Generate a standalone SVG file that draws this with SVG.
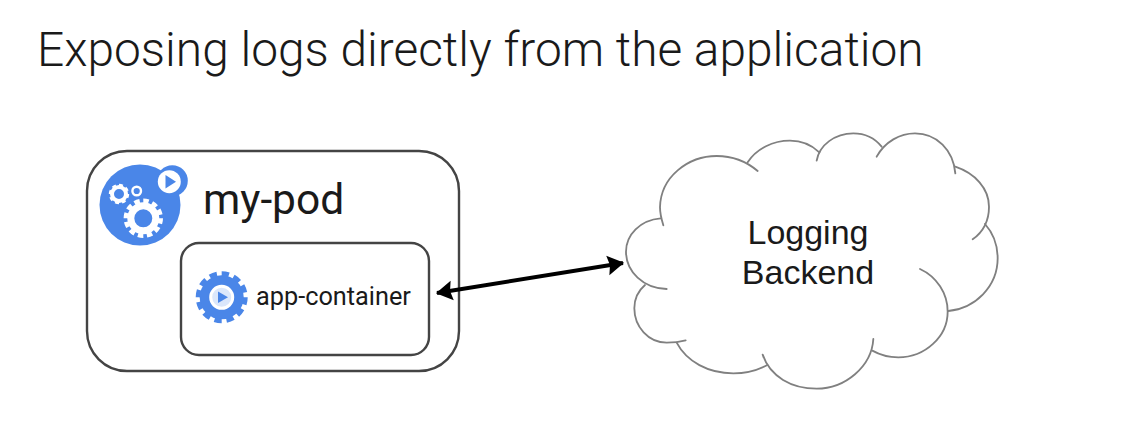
<svg xmlns="http://www.w3.org/2000/svg" width="1124" height="422" viewBox="0 0 1124 422">
<style>
.box{fill:#fff;stroke:#444;stroke-width:2.4}
.blue{fill:#4a86e8}
.w{fill:#fff}
.cl{fill:none;stroke:#808080;stroke-width:5.500;stroke-linecap:round}
text{font-family:Roboto,"Liberation Sans",sans-serif;fill:#1a1a1a}
.arial{font-family:"Liberation Sans",Arial,sans-serif}
</style>
<defs>
<marker id="ah" viewBox="0 0 10 10" refX="9.500" refY="5" markerWidth="5.500" markerHeight="5.500" orient="auto-start-reverse"><path d="M2.500 0.500L10 5L2.500 9.500L3.500 5z" fill="#000"/></marker>
</defs>
<rect width="1124" height="422" fill="#fff"/>
<text id="title" x="37" y="66" font-size="47.850" font-weight="300" fill="#111">Exposing logs directly from the application</text>
<g id="my-pod">
<rect class="box" x="87" y="151" width="372" height="220" rx="40"/>
<circle class="blue" cx="140" cy="205" r="40.500"/>
<circle class="blue" cx="172.300" cy="180.700" r="15.500"/>
<circle class="w" cx="169.300" cy="181.700" r="11.500"/>
<path class="blue" d="M165.500 175L176 181.700L165.500 188.500z"/>
<circle cx="143.300" cy="218.300" r="12.500" fill="none" stroke="#fff" stroke-width="7"/>
<circle cx="143.300" cy="218.300" r="17.500" fill="none" stroke="#fff" stroke-width="4.400" pathLength="100" stroke-dasharray="5 3.333"/>
<circle cx="119" cy="194" r="7" fill="none" stroke="#fff" stroke-width="4"/>
<circle cx="119" cy="194" r="9" fill="none" stroke="#fff" stroke-width="2.400" pathLength="100" stroke-dasharray="7 5.500"/>
<circle cx="136.700" cy="191" r="4.300" fill="none" stroke="#fff" stroke-width="2.400"/>
<text x="203" y="214" font-size="42.500">my-pod</text>
</g>
<g id="app-container">
<rect class="box" x="181" y="243" width="248" height="112" rx="18"/>
<circle class="blue" cx="221.700" cy="297.300" r="22"/>
<circle cx="221.700" cy="297.300" r="23.500" fill="none" stroke="#4a86e8" stroke-width="5" pathLength="100" stroke-dasharray="5 3.333"/>
<circle cx="221.700" cy="297.300" r="11" fill="#dbe7fb" stroke="#fff" stroke-width="3"/>
<path class="blue" d="M218 291.500L228 297.300L218 303z"/>
<text x="256" y="305" font-size="25.300" fill="#333">app-container</text>
</g>
<g id="logging-backend">
<g transform="translate(610 120) scale(.33333)">
<path class="cl" d="M160 316C155 300 150 280 150 262C152 170 235 108 320 108C370 108 410 125 443 153"/>
<path class="cl" d="M413 127C440 85 490 62 540 62C575 62 605 75 628 97"/>
<path class="cl" d="M620 122C628 75 675 40 730 40C765 40 795 55 815 80"/>
<path class="cl" d="M800 110C825 65 870 40 915 40C980 40 1030 90 1036 160"/>
<path class="cl" d="M1036 140C1095 160 1137 205 1137 260C1137 300 1120 335 1088 358"/>
<path class="cl" d="M1125 312C1150 340 1163 375 1163 415C1163 500 1095 565 1015 573"/>
<path class="cl" d="M930 447C980 470 1013 520 1013 575C1013 650 945 712 865 712C835 712 810 705 787 692"/>
<path class="cl" d="M790 657C785 740 705 806 620 806C545 806 480 770 458 704"/>
<path class="cl" d="M472 735C440 752 405 760 370 760C295 760 230 725 200 668"/>
<path class="cl" d="M227 661C205 667 190 668 170 668C115 668 73 620 73 565C73 535 85 512 105 495"/>
<path class="cl" d="M170 507C100 505 48 455 48 395C48 345 90 300 152 295"/>
</g>
<text class="arial" x="808" y="244" font-size="34" text-anchor="middle" fill="#222">Logging</text>
<text class="arial" x="808" y="284" font-size="34" text-anchor="middle" fill="#222">Backend</text>
</g>
<g id="connectors">
<line x1="437" y1="293" x2="623" y2="263" stroke="#000" stroke-width="4" marker-start="url(#ah)" marker-end="url(#ah)"/>
</g>
</svg>
